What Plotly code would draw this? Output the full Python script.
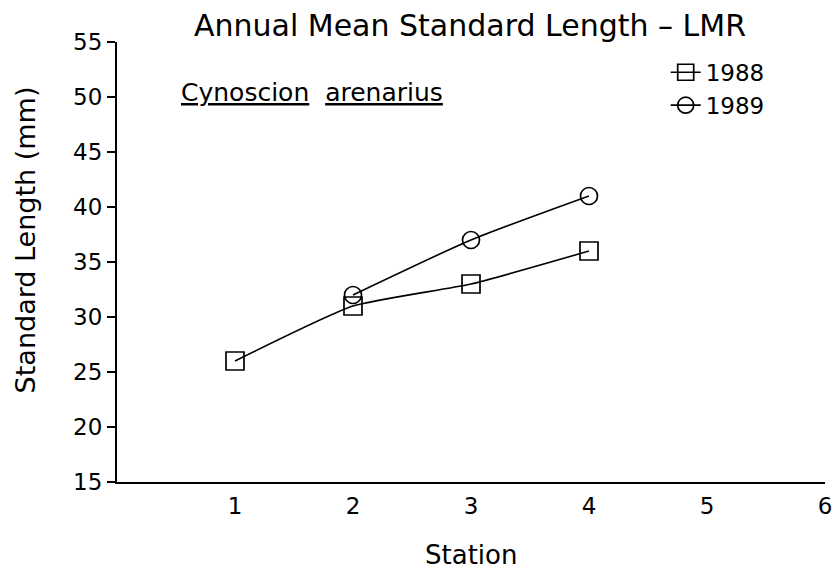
import plotly.graph_objects as go

stations_1988 = [1, 2, 3, 4]
length_1988 = [26, 31, 33, 36]
stations_1989 = [2, 3, 4]
length_1989 = [32, 37, 41]
x_ticks = [1, 2, 3, 4, 5, 6]
y_ticks = [15, 20, 25, 30, 35, 40, 45, 50, 55]

FONT = "DejaVu Sans"

fig = go.Figure()
fig.add_trace(go.Scatter(
    x=stations_1988, y=length_1988, name="1988", mode="lines+markers",
    line=dict(color="black", width=1.6, shape="spline", smoothing=0.5),
    marker=dict(symbol="square-open", size=18, color="black", line=dict(width=1.7)),
))
fig.add_trace(go.Scatter(
    x=stations_1989, y=length_1989, name="1989", mode="lines+markers",
    line=dict(color="black", width=1.6, shape="spline", smoothing=0.6),
    marker=dict(symbol="circle-open", size=17, color="black", line=dict(width=1.7)),
))

fig.update_layout(
    width=836, height=569,
    margin=dict(l=117, r=11, t=42, b=87, autoexpand=False),
    paper_bgcolor="white", plot_bgcolor="white",
    font=dict(family=FONT, color="black", size=23),
    title=dict(text="Annual Mean Standard Length – LMR", x=0.4986, xref="paper",
               xanchor="center", y=0.955, yref="container", yanchor="middle",
               font=dict(size=30, family=FONT)),
    showlegend=True,
    legend=dict(x=0.775, y=0.98, xanchor="left", yanchor="top",
                font=dict(size=23), bgcolor="rgba(0,0,0,0)",
                tracegroupgap=0),
    xaxis=dict(range=[0, 6], tickvals=x_ticks, ticks="", showgrid=False, zeroline=False,
               showline=True, linecolor="black", linewidth=2, automargin=False,
               ticklabelstandoff=2, tickfont=dict(size=23)),
    yaxis=dict(range=[15, 55], tickvals=y_ticks, ticks="outside", ticklen=8, tickwidth=1.5,
               tickcolor="black", showgrid=False, zeroline=False, automargin=False,
               showline=True, linecolor="black", linewidth=2,
               tickfont=dict(size=23)),
)

fig.add_annotation(x=0.5, y=-0.165, xref="paper", yref="paper",
                   text="Station", showarrow=False, xanchor="center", yanchor="middle",
                   font=dict(size=26, family=FONT))
fig.add_annotation(x=-0.128, y=0.55, xref="paper", yref="paper",
                   text="Standard Length (mm)", showarrow=False, textangle=-90,
                   xanchor="center", yanchor="middle",
                   font=dict(size=27, family=FONT))
fig.add_annotation(x=0.2754, y=0.886, xref="paper", yref="paper",
                   text="<u>Cynoscion</u>  <u>arenarius</u>", showarrow=False,
                   xanchor="center", yanchor="middle",
                   font=dict(size=25, family=FONT))

fig.write_html("out.html",
               config={"displayModeBar": False},
               post_script="document.body.style.margin='0';document.body.style.overflow='hidden';")
